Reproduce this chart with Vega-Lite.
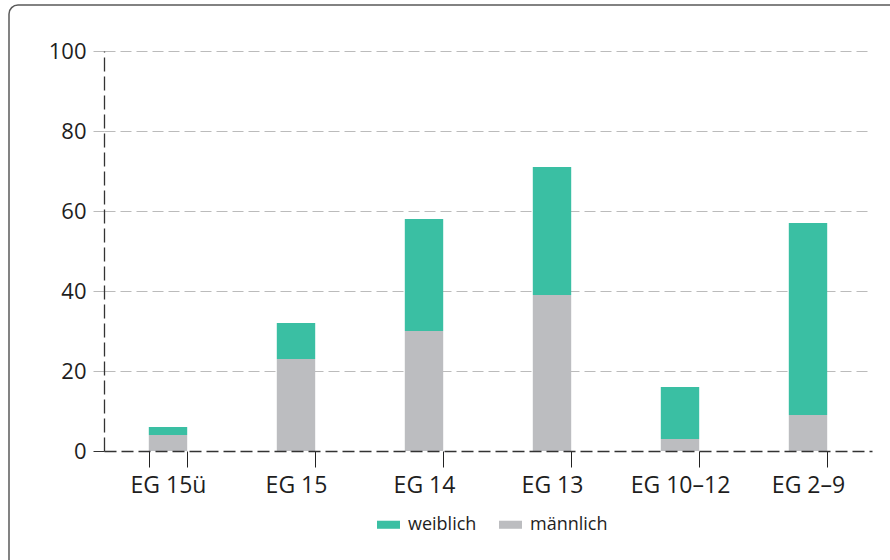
{
  "$schema": "https://vega.github.io/schema/vega-lite/v6.json",
  "width": 768,
  "height": 400,
  "autosize": {"type": "none"},
  "padding": {"left": 104, "top": 51, "right": 18, "bottom": 109},
  "background": "white",
  "config": {
    "view": {"stroke": null},
    "font": "Open Sans",
    "axis": {"labelFont": "Open Sans", "labelColor": "#1e1e1e", "labelFontWeight": 500},
    "legend": {"labelFont": "Open Sans", "labelColor": "#1e1e1e", "labelFontWeight": 500}
  },
  "layer": [
    {
      "data": {"values": [{"frame": 1}]},
      "mark": {"type": "rect", "fillOpacity": 0, "stroke": "#5a5a5a", "strokeWidth": 1.5, "cornerRadius": 9},
      "encoding": {
        "x": {"datum": -0.1237, "type": "quantitative", "scale": {"domain": [0, 1]}, "axis": null},
        "x2": {"datum": 1.05},
        "y": {"datum": 111.5, "type": "quantitative", "scale": {"domain": [0, 100]}, "axis": null},
        "y2": {"datum": -30}
      }
    },
    {
      "data": {
        "values": [
          {"Gruppe": "EG 15ü", "Geschlecht": "männlich", "Anzahl": 4},
          {"Gruppe": "EG 15ü", "Geschlecht": "weiblich", "Anzahl": 2},
          {"Gruppe": "EG 15", "Geschlecht": "männlich", "Anzahl": 23},
          {"Gruppe": "EG 15", "Geschlecht": "weiblich", "Anzahl": 9},
          {"Gruppe": "EG 14", "Geschlecht": "männlich", "Anzahl": 30},
          {"Gruppe": "EG 14", "Geschlecht": "weiblich", "Anzahl": 28},
          {"Gruppe": "EG 13", "Geschlecht": "männlich", "Anzahl": 39},
          {"Gruppe": "EG 13", "Geschlecht": "weiblich", "Anzahl": 32},
          {"Gruppe": "EG 10–12", "Geschlecht": "männlich", "Anzahl": 3},
          {"Gruppe": "EG 10–12", "Geschlecht": "weiblich", "Anzahl": 13},
          {"Gruppe": "EG 2–9", "Geschlecht": "männlich", "Anzahl": 9},
          {"Gruppe": "EG 2–9", "Geschlecht": "weiblich", "Anzahl": 48}
        ]
      },
      "mark": {"type": "bar"},
      "encoding": {
        "x": {
          "field": "Gruppe",
          "type": "nominal",
          "sort": null,
          "scale": {"paddingInner": 0.7, "paddingOuter": 0.35},
          "axis": {
            "title": null,
            "labelAngle": 0,
            "labelFontSize": 23,
            "labelPadding": 7,
            "tickBand": "extent",
            "tickSize": 16,
            "tickColor": "#222222",
            "tickWidth": 1,
            "domainColor": "#333333",
            "domainDash": [12, 5],
            "domainWidth": 1.3,
            "grid": false,
            "zindex": 1
          }
        },
        "y": {
          "field": "Anzahl",
          "type": "quantitative",
          "stack": "zero",
          "scale": {"domain": [0, 100]},
          "axis": {
            "title": null,
            "values": [0, 20, 40, 60, 80, 100],
            "labelFontSize": 22,
            "labelPadding": 4,
            "tickSize": 14,
            "tickDash": [11, 5],
            "tickColor": {"condition": {"test": "datum.value === 0", "value": "#333333"}, "value": "#bbbbbb"},
            "grid": true,
            "gridDash": [11, 5],
            "gridColor": {"condition": {"test": "datum.value === 0", "value": "transparent"}, "value": "#bbbbbb"},
            "gridWidth": 1.2,
            "domainColor": "#333333",
            "domainDash": [14, 5],
            "domainWidth": 1.3
          }
        },
        "color": {
          "field": "Geschlecht",
          "type": "nominal",
          "scale": {"domain": ["weiblich", "männlich"], "range": ["#3abfa3", "#bcbdc0"]},
          "legend": {
            "title": null,
            "orient": "none",
            "legendX": 273,
            "legendY": 462,
            "direction": "horizontal",
            "symbolType": "M-1,-0.35H1V0.35H-1Z",
            "symbolSize": 529,
            "symbolStrokeWidth": 0,
            "labelFontSize": 18,
            "labelOffset": 8,
            "columnPadding": 22
          }
        },
        "order": {"field": "Geschlecht", "sort": "ascending"}
      }
    }
  ],
  "resolve": {"scale": {"x": "independent", "y": "independent"}}
}
